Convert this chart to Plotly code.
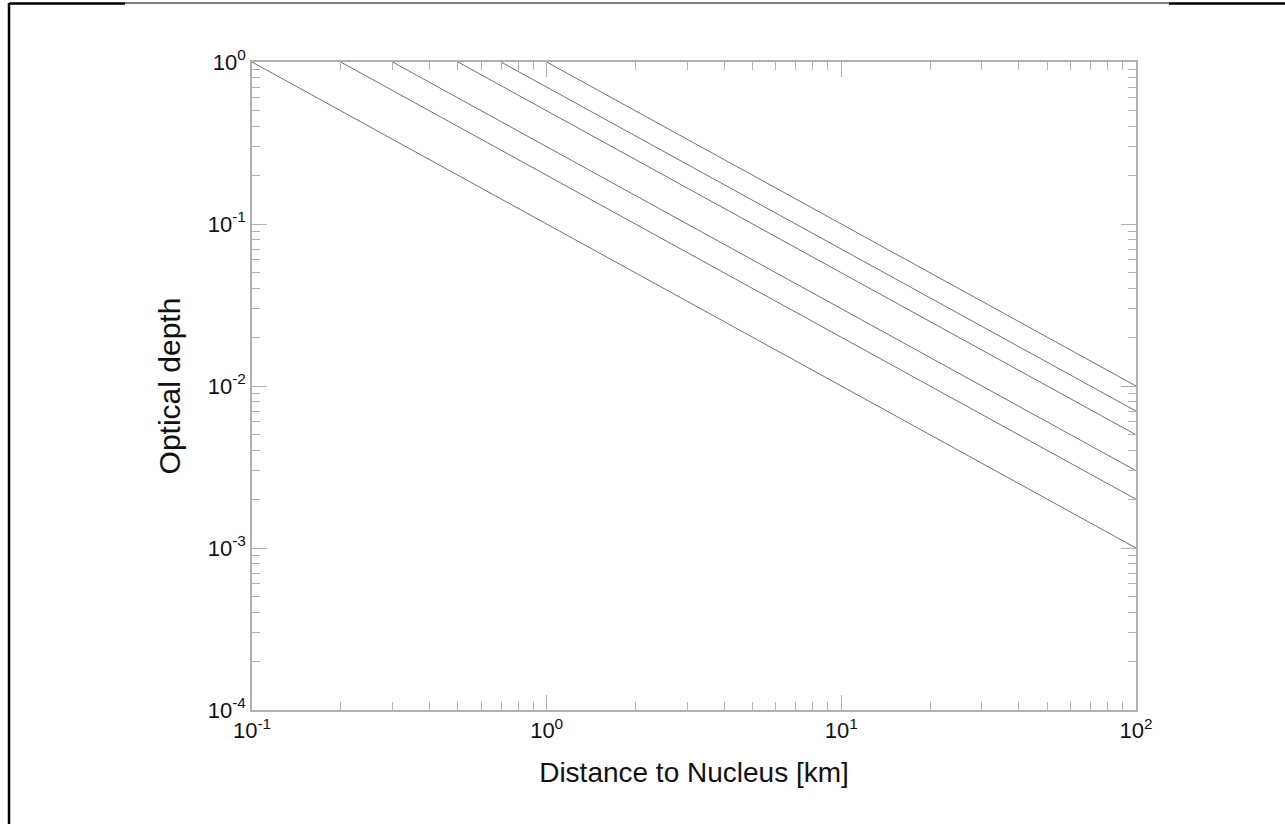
import plotly.graph_objects as go

# Valores
distance_start = [0.1, 0.2, 0.3, 0.5, 0.7, 1.0]      # km, donde tau = 1
tau_start = [1.0, 1.0, 1.0, 1.0, 1.0, 1.0]
distance_end = [100, 100, 100, 100, 100, 100]        # km
tau_end = [0.001, 0.002, 0.003, 0.005, 0.007, 0.01]

x_tickvals = [0.1, 1, 10, 100]
x_ticktext = ["10<sup>-1</sup>", "10<sup>0</sup>", "10<sup>1</sup>", "10<sup>2</sup>"]
y_tickvals = [1e-4, 1e-3, 1e-2, 1e-1, 1]
y_ticktext = ["10<sup>-4</sup>", "10<sup>-3</sup>", "10<sup>-2</sup>", "10<sup>-1</sup>", "10<sup>0</sup>"]

x_minor = [m * 10.0**e for e in range(-1, 2) for m in range(2, 10)]
y_minor = [m * 10.0**e for e in range(-4, 0) for m in range(2, 10)]

fig = go.Figure()
for x0, y0, x1, y1 in zip(distance_start, tau_start, distance_end, tau_end):
    fig.add_trace(go.Scatter(
        x=[x0, x1], y=[y0, y1], mode="lines",
        line=dict(color="#707070", width=1),
        showlegend=False, hoverinfo="skip"
    ))

axis_style = dict(
    showline=True, linecolor="#b0b0b0", linewidth=1.5,
    mirror="ticks", ticks="inside", ticklen=15, tickcolor="#b0b0b0", tickwidth=1,
    showgrid=False, zeroline=False, tickmode="array",
    tickfont=dict(size=22),
)

fig.update_xaxes(
    type="log", range=[-1, 2],
    tickvals=x_tickvals, ticktext=x_ticktext,
    minor=dict(tickvals=x_minor, ticks="inside", ticklen=8, tickcolor="#b0b0b0", showgrid=False),
    title=dict(text="Distance to Nucleus [km]", font=dict(size=28), standoff=20),
    **axis_style
)
fig.update_yaxes(
    type="log", range=[-4, 0],
    tickvals=y_tickvals, ticktext=y_ticktext,
    minor=dict(tickvals=y_minor, ticks="inside", ticklen=8, tickcolor="#b0b0b0", showgrid=False),
    title=dict(text="Optical depth", font=dict(size=30), standoff=18),
    **axis_style
)

# Marco de la página (líneas negras de borde)
L, R, T, B = 252, 1136, 62, 710
W, H = 1285, 824
def px(x):
    return (x - L) / (R - L)
def py(y):
    return (B - y) / (B - T)

frame = [
    (9, 3, 9, 824, 2.5),
    (9, 3.5, 125, 3.5, 2.5),
    (125, 3, 1169, 3, 1.2),
    (1169, 3.5, 1285, 3.5, 2.5),
]
for x0, y0, x1, y1, w in frame:
    fig.add_shape(type="line", xref="paper", yref="paper",
                  x0=px(x0), y0=py(y0), x1=px(x1), y1=py(y1),
                  line=dict(color="black", width=w))

fig.update_layout(
    width=W, height=H,
    margin=dict(l=L, r=W - R, t=T, b=H - B),
    plot_bgcolor="white", paper_bgcolor="white",
    font=dict(family="Liberation Sans, Arial, sans-serif", size=20, color="#111111"),
)

fig.write_html("out.html", config={"displayModeBar": False},
               post_script="document.body.style.margin='0';")
